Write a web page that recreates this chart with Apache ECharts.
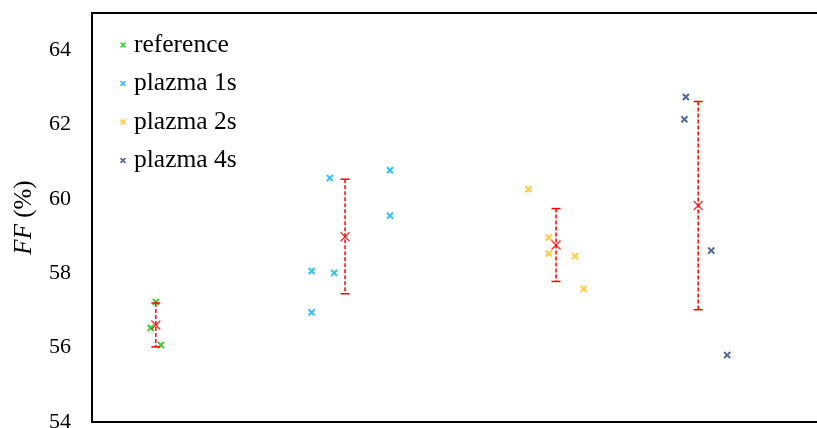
<!DOCTYPE html>
<html>
<head>
<meta charset="utf-8">
<script src="https://cdn.jsdelivr.net/npm/echarts@6/dist/echarts.min.js"></script>
<style>
  html, body { margin: 0; padding: 0; background: #fff; }
  #chart { width: 817px; height: 428px; }
</style>
</head>
<body>
<div id="chart"></div>
<script>
// names and colours of the groups
var groupNames = ["reference", "plazma 1s", "plazma 2s", "plazma 4s"];
var groupColors = ["#00c800", "#00b0f0", "#ffc000", "#264478"];

// individual FF values (x = position inside the group, y = FF %)
var refX = [0.88, 0.81, 0.95];
var refY = [57.23, 56.53, 56.07];
var p1X = [3.28, 4.11, 4.11, 3.03, 3.34, 3.03];
var p1Y = [60.56, 60.77, 59.55, 58.06, 58.01, 56.95];
var p2X = [6.02, 6.30, 6.30, 6.66, 6.78];
var p2Y = [60.26, 58.96, 58.53, 58.46, 57.58];
var p4X = [8.19, 8.17, 8.54, 8.76];
var p4Y = [62.74, 62.14, 58.61, 55.80];

// mean of each group with its error bar
var meanX = [0.88, 3.49, 6.40, 8.36];
var meanY = [56.61, 58.98, 58.76, 59.82];
var errLow = [56.02, 57.45, 57.78, 57.02];
var errHigh = [57.20, 60.53, 59.74, 62.62];

var xs = [refX, p1X, p2X, p4X];
var ys = [refY, p1Y, p2Y, p4Y];

function zip(a, b) {
  return a.map(function (v, i) { return [v, b[i]]; });
}

// filled "x" shapes so the legend icon looks the same as the marks
var crossSmall = "path://M0,1.9L1.9,0L5,3.1L8.1,0L10,1.9L6.9,5L10,8.1L8.1,10L5,6.9L1.9,10L0,8.1L3.1,5Z";
var crossMean = "path://M0,1L1,0L5,4L9,0L10,1L6,5L10,9L9,10L5,6L1,10L0,9L4,5Z";

var series = groupNames.map(function (name, i) {
  return {
    name: name,
    type: "scatter",
    symbol: crossSmall,
    symbolSize: 7.5,
    itemStyle: { color: groupColors[i] },
    data: zip(xs[i], ys[i]),
    z: 3
  };
});

series.push({
  name: "error",
  type: "custom",
  z: 4,
  data: meanX.map(function (x, i) { return [x, errLow[i], errHigh[i]]; }),
  renderItem: function (params, api) {
    var x = api.value(0);
    var lo = api.coord([x, api.value(1)]);
    var hi = api.coord([x, api.value(2)]);
    var cap = 4.5;
    var red = "#ff0000";
    return {
      type: "group",
      children: [
        {
          type: "line",
          shape: { x1: hi[0], y1: hi[1], x2: lo[0], y2: lo[1] },
          style: { stroke: red, lineWidth: 1.5, lineDash: [4, 2] }
        },
        {
          type: "line",
          shape: { x1: hi[0] - cap, y1: hi[1], x2: hi[0] + cap, y2: hi[1] },
          style: { stroke: red, lineWidth: 1.5 }
        },
        {
          type: "line",
          shape: { x1: lo[0] - cap, y1: lo[1], x2: lo[0] + cap, y2: lo[1] },
          style: { stroke: red, lineWidth: 1.5 }
        }
      ]
    };
  }
});

series.push({
  name: "mean",
  type: "scatter",
  symbol: crossMean,
  symbolSize: 10,
  itemStyle: { color: "#ff0000" },
  data: zip(meanX, meanY),
  z: 5
});

var chart = echarts.init(document.getElementById("chart"));

chart.setOption({
  animation: false,
  backgroundColor: "#fff",
  grid: {
    left: 92,
    right: -3,
    top: 13,
    bottom: 6,
    outerBoundsMode: "none",
    containLabel: false,
    show: true,
    borderColor: "#000",
    borderWidth: 2
  },
  legend: {
    data: groupNames,
    orient: "vertical",
    left: 115,
    top: 27,
    itemWidth: 6,
    itemHeight: 6,
    itemGap: 12.5,
    textStyle: {
      fontFamily: "Liberation Serif",
      fontSize: 25.5,
      color: "#000",
      lineHeight: 26,
      padding: [0, 0, 0, 3]
    }
  },
  xAxis: {
    type: "value",
    min: 0,
    max: 10.04,
    show: false
  },
  yAxis: {
    type: "value",
    min: 54,
    max: 65,
    interval: 2,
    name: "{i|FF} (%)",
    nameLocation: "middle",
    nameGap: 55,
    nameTextStyle: {
      fontFamily: "Liberation Serif",
      fontSize: 25,
      color: "#000",
      rich: {
        i: { fontFamily: "Liberation Serif", fontSize: 25, fontStyle: "italic", color: "#000" }
      }
    },
    axisLine: { show: false },
    axisTick: { show: false },
    splitLine: { show: false },
    axisLabel: {
      fontFamily: "Liberation Serif",
      fontSize: 22,
      color: "#000",
      margin: 21,
      padding: [4, 0, 0, 0],
      showMaxLabel: false
    }
  },
  series: series
});
</script>
</body>
</html>
